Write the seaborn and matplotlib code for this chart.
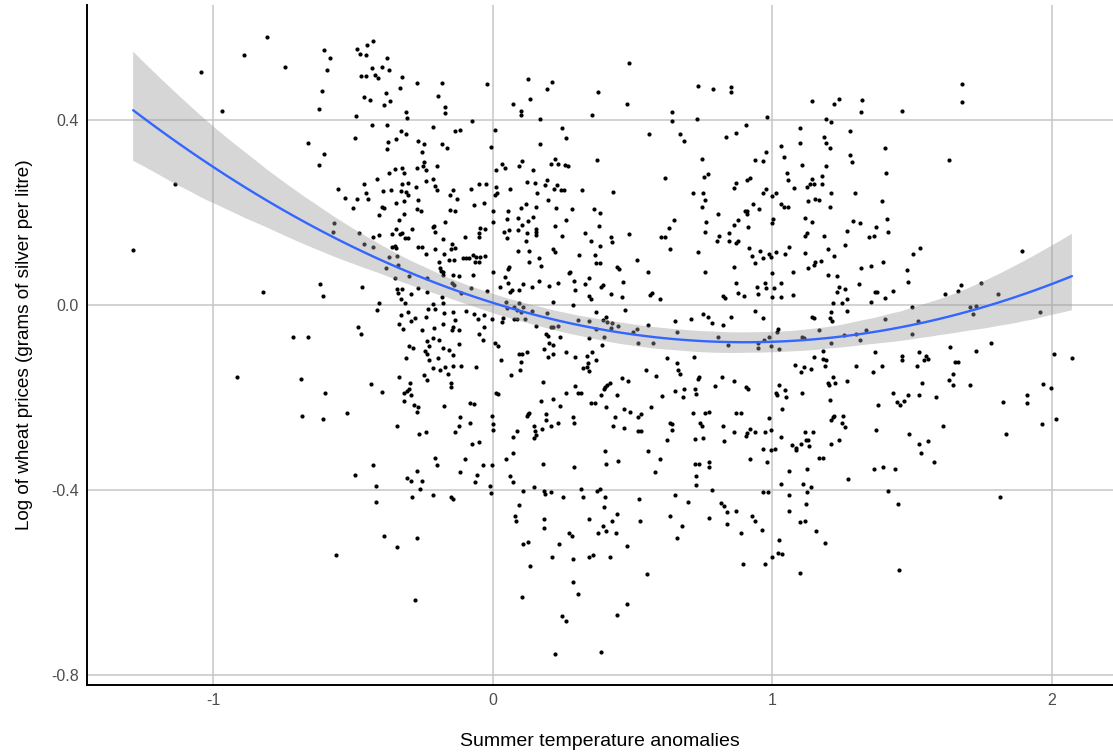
import matplotlib
matplotlib.use("Agg")
import matplotlib.pyplot as plt
import seaborn as sns
import pandas as pd
from matplotlib.collections import PolyCollection

# (summer temperature anomaly, log wheat price) pairs, by region
region_a = [(-0.807,0.580),(-0.891,0.541),(-1.045,0.505),(-0.743,0.516),(-0.969,0.421),(-1.138,0.262),(-0.605,0.553),(-0.582,0.535),(-0.592,0.508),(-0.610,0.464),(-0.621,0.424),(-0.659,0.352),(-0.602,0.327),(-0.623,0.304),(-0.555,0.251),(-0.530,0.233),(-0.487,0.229),(-0.501,0.210),(-0.568,0.177),
(-0.484,0.554),(-0.448,0.562),(-0.428,0.572),(-0.475,0.543),(-0.453,0.541),(-0.377,0.534),(-0.430,0.514),(-0.397,0.516),(-0.372,0.508),(-0.470,0.495),(-0.453,0.497),(-0.421,0.499),(-0.410,0.492),(-0.324,0.493),(-0.271,0.481),(-0.333,0.469),(-0.380,0.459),(-0.462,0.451),(-0.439,0.443),(-0.366,0.441),(-0.387,0.433),
(-0.309,0.418),(-0.308,0.405),(-0.489,0.410),(-0.430,0.391),(-0.378,0.391),(-0.329,0.376),(-0.310,0.371),(-0.347,0.360),(-0.491,0.362),(-0.375,0.353),(-0.266,0.355),(-0.247,0.348),(-0.378,0.339),(-0.254,0.331),(-0.246,0.309),(-0.248,0.301),(-0.270,0.298),(-0.237,0.292),(-0.325,0.296),(-0.317,0.287),(-0.350,0.294),(-0.372,0.286),
(-0.414,0.273),(-0.462,0.262),(-0.323,0.262),(-0.303,0.265),(-0.237,0.269),(-0.276,0.256),(-0.391,0.247),(-0.364,0.249),(-0.329,0.247),(-0.311,0.245),(-0.302,0.239),(-0.452,0.244),(-0.445,0.231),(-0.345,0.222),(-0.317,0.225),(-0.266,0.227),(-0.397,0.212),(-0.389,0.210),(-0.272,0.208),(-0.257,0.205),(-0.317,0.197),(-0.406,0.195),(-0.334,0.185),(-0.346,0.166),(-0.290,0.164)]

region_b = [(-0.183,0.481),(-0.197,0.452),(-0.172,0.430),(-0.171,0.417),(-0.212,0.386),(-0.136,0.376),(-0.116,0.380),(-0.075,0.399),(-0.021,0.479),(-0.180,0.348),(-0.165,0.340),(-0.005,0.342),(0.010,0.379),(-0.198,0.301),(-0.212,0.273),(-0.206,0.257),(-0.199,0.249),(-0.152,0.238),(-0.142,0.249),(-0.128,0.230),(-0.152,0.206),(-0.136,0.203),(-0.169,0.180),(-0.215,0.170),(-0.209,0.172),(-0.076,0.251),(-0.050,0.262),(-0.025,0.262),(-0.067,0.216),(-0.030,0.221),(0.002,0.203),(0.001,0.180),(0.008,0.239),(0.016,0.243),(0.012,0.255),(0.012,0.293),(-0.045,0.167),(-0.027,0.164),(0.035,0.306),(0.045,0.298),(0.062,0.252),(0.073,0.435),(0.100,0.420),(0.101,0.412),(0.128,0.490),(0.132,0.446),(0.168,0.403),(0.193,0.467),(0.211,0.482),(0.169,0.348),(0.095,0.301),(0.105,0.313),(0.143,0.292),(0.122,0.267),(0.150,0.264),(0.160,0.242),(0.196,0.271),(0.186,0.260),(0.209,0.306),(0.223,0.316),(0.232,0.306),(0.221,0.252),(0.229,0.260),(0.246,0.249),(0.255,0.249),(0.198,0.227),(0.227,0.210),(0.262,0.185),(0.285,0.208),(0.257,0.304),(0.270,0.301),(0.248,0.384),(0.263,0.362),(0.056,0.205),(0.101,0.210),(0.119,0.220),(0.154,0.213),(0.050,0.187),(0.091,0.188),(0.128,0.183),(0.145,0.190),(0.104,0.173),(0.154,0.164),(0.224,0.171),(0.320,0.249),(0.356,0.412),(0.378,0.462),(0.374,0.314),(0.362,0.208),(0.385,0.199),(0.382,0.171),(0.430,0.246),(0.479,0.435),(0.488,0.525),(0.560,0.370),(0.615,0.276),(0.632,0.167),(0.648,0.185),(0.642,0.419),(0.642,0.399),(0.669,0.371),(0.684,0.356),(0.734,0.474),(0.731,0.402),(0.788,0.468),(0.854,0.472),(0.854,0.461),(0.833,0.365),(0.870,0.373),(0.906,0.390),(0.983,0.408),(0.749,0.316),(0.755,0.278),(0.772,0.283),(0.718,0.244),(0.752,0.242),(0.760,0.227),(0.748,0.212),(0.807,0.197),(0.763,0.181),(0.863,0.253),(0.869,0.264),(0.908,0.271),(0.922,0.275),(0.937,0.314),(0.967,0.313),(0.978,0.332),(0.967,0.244),(0.978,0.251),(0.930,0.219),(0.951,0.208),(0.902,0.205),(0.910,0.203),(0.911,0.197),(0.877,0.185),(0.862,0.173),(0.915,0.169)]

region_c = [(1.141,0.441),(1.220,0.435),(1.239,0.446),(1.321,0.445),(1.319,0.419),(1.464,0.421),(1.679,0.479),(1.679,0.439),(1.192,0.403),(1.210,0.397),(1.098,0.383),(1.277,0.378),(1.184,0.365),(1.031,0.345),(1.099,0.350),(1.192,0.350),(1.206,0.340),(1.402,0.340),(1.043,0.320),(1.279,0.325),(1.285,0.311),(1.631,0.314),(1.107,0.304),(1.194,0.301),(1.054,0.286),(1.058,0.270),(1.407,0.287),(1.178,0.280),(1.141,0.273),(1.134,0.262),(1.149,0.262),(1.178,0.262),(1.124,0.255),(1.078,0.253),(1.014,0.242),(1.000,0.236),(1.296,0.242),(1.210,0.242),(1.031,0.220),(1.041,0.213),(1.058,0.213),(1.129,0.226),(1.153,0.229),(1.169,0.227),(1.206,0.212),(1.392,0.226),(1.003,0.187),(1.000,0.177),(1.116,0.189),(1.141,0.180),(1.288,0.183),(1.313,0.177),(1.409,0.187),(1.371,0.169)]

region_d = [(-1.286,0.120),(-0.821,0.029),(-0.619,0.047),(-0.607,0.020),(-0.467,0.040),(-0.570,0.159),(-0.479,0.156),(-0.428,0.147),(-0.406,0.153),(-0.360,0.155),(-0.333,0.155),(-0.326,0.157),(-0.315,0.146),(-0.303,0.146),(-0.461,0.133),(-0.428,0.127),(-0.360,0.126),(-0.351,0.128),(-0.346,0.124),(-0.266,0.126),(-0.253,0.127),(-0.239,0.110),(-0.370,0.104),(-0.344,0.106),(-0.340,0.088),(-0.380,0.080),(-0.348,0.060),(-0.298,0.063),(-0.234,0.058),(-0.341,0.035),(-0.323,0.035),(-0.340,0.027),(-0.291,0.025),(-0.267,0.038),(-0.234,0.029),(-0.406,0.006),(-0.329,0.013),(-0.315,0.004),(-0.232,-0.008),(-0.413,-0.011),(-0.303,-0.015),(-0.327,-0.022),(-0.291,-0.034),(-0.277,-0.028),(-0.239,-0.025),(-0.334,-0.040),(-0.322,-0.052),(-0.253,-0.053),(-0.480,-0.047),(-0.470,-0.062),(-0.714,-0.069),(-0.661,-0.069),(-0.236,-0.077),(-0.298,-0.087),(-0.285,-0.092),(-0.229,-0.087),(-0.241,-0.099),(-0.236,-0.106),(-0.310,-0.115),(-0.229,-0.118),(-0.914,-0.156),(-0.687,-0.159),(-0.601,-0.190),(-0.437,-0.170),(-0.397,-0.187),(-0.334,-0.156),(-0.296,-0.167),(-0.246,-0.150),(-0.236,-0.162),(-0.317,-0.190),(-0.308,-0.185),(-0.301,-0.182),(-0.291,-0.193),(-0.317,-0.206),(-0.282,-0.215),(-0.268,-0.221),(-0.272,-0.231),(-0.683,-0.239),(-0.607,-0.245),(-0.520,-0.233),(-0.341,-0.260),(-0.264,-0.278),(-0.237,-0.273)]

region_e = [(-0.205,0.159),(-0.179,0.143),(-0.208,0.121),(-0.173,0.112),(-0.150,0.121),(-0.146,0.133),(-0.136,0.125),(-0.155,0.099),(-0.138,0.099),(-0.193,0.093),(-0.189,0.081),(-0.184,0.075),(-0.177,0.071),(-0.179,0.065),(-0.143,0.066),(-0.119,0.063),(-0.146,0.049),(-0.137,0.044),(-0.112,0.027),(-0.181,0.017),(-0.212,0.003),(-0.208,-0.009),(-0.179,0.004),(-0.173,-0.016),(-0.143,-0.014),(-0.134,-0.032),(-0.141,-0.046),(-0.146,-0.053),(-0.209,-0.050),(-0.179,-0.040),(-0.119,-0.053),(-0.191,-0.075),(-0.212,-0.071),(-0.179,-0.093),(-0.155,-0.097),(-0.143,-0.107),(-0.122,-0.084),(-0.197,-0.115),(-0.215,-0.136),(-0.189,-0.140),(-0.161,-0.149),(-0.169,-0.133),(-0.141,-0.131),(-0.113,-0.131),(-0.149,-0.169),(-0.149,-0.176),(-0.174,-0.218),(-0.117,-0.242),(-0.119,-0.261),(-0.134,-0.275),(-0.205,-0.331),
(-0.098,0.147),(-0.050,0.156),(-0.048,0.147),(-0.107,0.103),(-0.095,0.103),(-0.086,0.102),(-0.072,0.109),(-0.060,0.105),(-0.045,0.104),(-0.026,0.107),(-0.062,0.093),(-0.050,0.093),(-0.072,0.066),(-0.076,0.038),(-0.021,0.031),(0.000,0.073),(-0.095,-0.012),(-0.066,-0.019),(-0.054,-0.030),(-0.030,-0.048),(-0.048,-0.062),(-0.036,-0.074),(-0.002,-0.030),(-0.060,-0.133),(0.010,-0.082),(0.018,-0.088),(0.012,-0.190),(0.019,-0.192),(-0.080,-0.212),(-0.066,-0.214),(-0.081,-0.254),(-0.048,-0.295),(-0.074,-0.300),(-0.002,-0.239),(0.000,-0.257),(0.000,-0.270),(-0.098,-0.333),(-0.030,-0.021),
(0.042,0.159),(0.057,0.162),(0.089,0.162),(0.122,0.157),(0.051,0.145),(0.119,0.140),(0.089,0.118),(0.129,0.118),(0.129,0.093),(0.060,0.082),(0.055,0.078),(0.045,0.061),(0.055,0.049),(0.026,0.039),(0.068,0.033),(0.063,0.029),(0.095,0.033),(0.107,0.046),(0.048,0.008),(0.050,-0.005),(0.078,-0.004),(0.095,0.004),(0.110,-0.004),(0.086,-0.010),(0.101,-0.014),(0.117,-0.030),(0.078,-0.030),(0.086,-0.030),(0.036,-0.028),(0.033,-0.037),(0.031,-0.118),(0.095,-0.105),(0.105,-0.105),(0.101,-0.123),(0.098,-0.140),(0.064,-0.151),(0.124,-0.102),(0.122,-0.239),(0.129,-0.234),(0.086,-0.272),(0.072,-0.284),(0.072,-0.320),(0.048,-0.333),
(0.155,0.159),(0.155,0.152),(0.167,0.102),(0.173,0.085),(0.167,0.053),(0.141,0.039),(0.215,0.008),(0.141,-0.012),(0.155,-0.045),(0.193,-0.017),(0.191,-0.062),(0.197,-0.066),(0.210,-0.046),(0.217,-0.048),(0.234,-0.045),(0.215,-0.086),(0.185,-0.095),(0.203,-0.081),(0.197,-0.111),(0.217,-0.105),(0.241,-0.068),(0.181,-0.165),(0.172,-0.206),(0.217,-0.203),(0.241,-0.218),(0.189,-0.236),(0.191,-0.249),(0.126,-0.236),(0.148,-0.261),(0.153,-0.272),(0.155,-0.280),(0.149,-0.288),(0.177,-0.268),(0.209,-0.262),(0.233,-0.254),(0.215,0.121),(0.224,0.115),(0.203,0.042),(0.233,0.048),(0.248,0.150),
(0.272,0.069),(0.277,0.073),(0.291,0.053),(0.294,0.033),(0.308,0.108),(0.286,0.001),(0.304,-0.032),(0.332,0.156),(0.353,0.140),(0.365,0.108),(0.370,0.091),(0.384,0.091),(0.384,0.128),(0.332,0.046),(0.344,0.058),(0.346,0.020),(0.353,0.014),(0.370,-0.014),(0.263,-0.102),(0.296,-0.112),(0.337,-0.110),(0.356,-0.100),(0.342,-0.125),(0.322,-0.136),(0.339,-0.134),(0.346,-0.143),(0.370,-0.118),(0.368,-0.052),(0.346,-0.035),(0.346,-0.071),(0.294,-0.174),(0.305,-0.189),(0.317,-0.189),(0.352,-0.212),(0.365,-0.212),(0.263,-0.190),(0.286,-0.241),(0.292,-0.254),
(0.425,0.147),(0.427,0.136),(0.394,0.044),(0.389,0.040),(0.424,0.025),(0.463,0.017),(0.465,0.051),(0.451,0.078),(0.446,0.082),(0.406,-0.026),(0.394,-0.032),(0.408,-0.037),(0.427,-0.039),(0.425,-0.049),(0.449,-0.045),(0.475,-0.010),(0.400,-0.069),(0.391,-0.086),(0.463,-0.158),(0.484,-0.164),(0.418,-0.169),(0.410,-0.173),(0.403,-0.177),(0.399,-0.180),(0.388,-0.194),(0.444,-0.194),(0.406,-0.219),(0.468,-0.224),(0.492,-0.230),(0.437,-0.241),(0.430,-0.261),(0.471,-0.266),(0.403,-0.316),(0.489,0.154),
(0.516,0.097),(0.554,0.073),(0.563,0.022),(0.570,0.026),(0.599,0.013),(0.501,-0.057),(0.518,-0.052),(0.520,-0.082),(0.556,-0.043),(0.575,-0.082),(0.549,-0.141),(0.585,-0.153),(0.532,-0.236),(0.519,-0.242),(0.520,-0.271),(0.531,-0.271),(0.567,-0.221),(0.603,0.147),(0.615,0.147),(0.605,-0.196),(0.556,-0.316),(0.599,-0.333),
(0.635,0.122),(0.652,-0.035),(0.660,-0.057),(0.624,-0.115),(0.659,-0.124),(0.663,-0.140),(0.669,-0.149),(0.708,-0.030),(0.721,-0.112),(0.735,-0.160),(0.722,-0.182),(0.728,-0.192),(0.683,-0.180),(0.653,-0.186),(0.680,-0.198),(0.635,-0.254),(0.641,-0.257),(0.642,-0.270),(0.716,-0.234),(0.722,-0.290),(0.623,-0.291),(0.760,0.073),(0.735,0.115),
(0.761,0.159),(0.809,0.150),(0.802,0.140),(0.845,0.140),(0.863,0.082),(0.871,0.049),(0.878,0.026),(0.823,0.020),(0.831,0.015),(0.899,0.020),(0.753,-0.019),(0.771,-0.026),(0.785,-0.039),(0.807,-0.069),(0.823,-0.043),(0.841,-0.086),(0.851,-0.026),(0.737,-0.156),(0.794,-0.174),(0.819,-0.156),(0.761,-0.232),(0.773,-0.230),(0.749,-0.262),(0.740,-0.255),(0.823,-0.261),(0.828,-0.294),(0.752,-0.288),
(0.847,0.157),(0.871,0.134),(0.877,0.140),(0.916,0.125),(0.926,0.107),(0.939,0.092),(0.955,0.118),(0.967,0.102),(0.973,0.048),(0.949,0.025),(0.979,0.037),(0.946,0.040),(0.937,-0.013),(0.967,-0.027),(0.970,-0.075),(0.949,-0.082),(0.949,-0.093),(0.863,-0.164),(0.907,-0.176),(0.912,-0.180),(0.871,-0.232),(0.888,-0.234),(0.863,-0.275),(0.905,-0.282),(0.909,-0.277),(0.921,-0.268),(0.937,-0.275),(0.967,-0.311),(0.921,-0.333),(0.973,-0.275)]

region_f = [(1.116,0.150),(1.124,0.156),(1.185,0.149),(1.267,0.161),(1.345,0.147),(1.363,0.149),(1.414,0.159),(1.262,0.131),(1.014,0.116),(1.045,0.110),(1.060,0.127),(0.990,0.112),(0.996,0.105),(1.119,0.114),(1.200,0.121),(1.222,0.106),(1.176,0.095),(1.154,0.094),(1.149,0.087),(1.129,0.080),(1.075,0.071),(1.000,0.069),(1.318,0.080),(1.354,0.086),(1.397,0.093),(1.502,0.111),(1.529,0.123),(1.483,0.076),(1.485,0.051),(1.199,0.066),(1.230,0.063),(1.033,0.048),(1.008,0.038),(0.999,0.017),(1.031,0.017),(1.075,0.022),(1.239,0.040),(1.260,0.035),(1.233,0.029),(1.310,0.046),(1.367,0.029),(1.375,0.029),(1.431,0.031),(1.403,0.015),(1.354,0.008),(1.269,0.013),(1.218,0.006),(1.248,0.004),(1.500,-0.004),(1.267,-0.012),(1.211,-0.015),(1.206,-0.028),(1.215,-0.034),(1.142,-0.025),(1.149,-0.028),
(1.618,0.025),(1.665,0.031),(1.677,0.043),(1.748,0.048),(1.809,0.025),(1.707,-0.003),(1.728,-0.001),(1.718,-0.019),(1.893,0.118),(1.959,-0.015),(1.403,-0.030),(1.520,-0.034),(1.501,-0.062),(1.334,-0.053),(1.301,-0.062),(1.313,-0.074),(1.258,-0.064),(1.167,-0.054),(1.107,-0.069),(1.115,-0.071),(1.210,-0.082),(1.021,-0.052),(1.017,-0.057),(0.990,-0.069),(0.994,-0.087),(1.026,-0.094),(1.181,-0.099),(1.180,-0.116),(1.191,-0.118),(1.150,-0.112),(1.188,-0.131),(1.080,-0.129),(1.115,-0.134),(1.140,-0.137),(1.102,-0.145),(1.367,-0.102),(1.394,-0.131),(1.299,-0.131),(1.360,-0.145),(1.266,-0.164),(1.217,-0.156),(1.200,-0.167),(1.203,-0.173),(1.224,-0.167),
(1.464,-0.110),(1.464,-0.118),(1.526,-0.100),(1.551,-0.109),(1.544,-0.118),(1.556,-0.117),(1.519,-0.132),(1.637,-0.090),(1.654,-0.123),(1.666,-0.123),(1.730,-0.098),(1.783,-0.082),(1.648,-0.149),(1.631,-0.162),(1.646,-0.172),(1.708,-0.172),(1.536,-0.167),(2.008,-0.105),(2.072,-0.115),(1.968,-0.170),(1.998,-0.178),(1.911,-0.195),(1.911,-0.212),(1.826,-0.210),(1.966,-0.257),(2.016,-0.245),(1.835,-0.278),(1.612,-0.260),(1.587,-0.198),(1.525,-0.195),(1.484,-0.195),(1.470,-0.206),(1.456,-0.215),(1.446,-0.210),(1.433,-0.190),(1.377,-0.216),(1.373,-0.270),(1.490,-0.278),(1.526,-0.300),(1.559,-0.294),(1.533,-0.319),
(1.023,-0.172),(1.014,-0.190),(1.017,-0.194),(1.045,-0.183),(1.050,-0.198),(1.106,-0.190),(1.205,-0.204),(1.035,-0.224),(0.990,-0.244),(1.217,-0.241),(1.221,-0.239),(1.212,-0.248),(1.252,-0.239),(1.251,-0.254),(1.259,-0.263),(0.996,-0.270),(1.031,-0.285),(1.119,-0.273),(1.146,-0.273),(1.122,-0.291),(1.128,-0.291),(1.212,-0.301),(1.238,-0.291),(1.069,-0.303),(1.086,-0.308),(1.086,-0.313),(1.103,-0.300),(1.132,-0.304),(1.011,-0.310),(0.996,-0.313),(1.167,-0.330),(1.183,-0.330)]

region_g = [(-0.428,-0.346),(-0.494,-0.366),(-0.418,-0.390),(-0.419,-0.426),(-0.390,-0.500),(-0.344,-0.523),(-0.562,-0.540),(-0.279,-0.637),(-0.270,-0.504),(-0.308,-0.373),(-0.291,-0.380),(-0.272,-0.359),(-0.254,-0.380),(-0.260,-0.397),(-0.290,-0.415)]

region_h = [(-0.212,-0.411),(-0.198,-0.346),(-0.150,-0.415),(-0.143,-0.418),(-0.116,-0.360),(-0.062,-0.383),(-0.056,-0.366),(-0.036,-0.346),(-0.004,-0.346),(-0.008,-0.390),(-0.006,-0.407),(0.061,-0.369),(0.074,-0.383),(0.110,-0.401),(0.148,-0.394),(0.095,-0.433),(0.081,-0.455),(0.084,-0.467),(0.107,-0.516),(0.126,-0.512),(0.135,-0.564),(0.104,-0.632),(0.180,-0.343),(0.182,-0.401),(0.187,-0.408),(0.209,-0.404),(0.185,-0.462),(0.185,-0.481),(0.212,-0.544),(0.222,-0.754),(0.239,-0.516),(0.247,-0.673),(0.264,-0.682),(0.253,-0.415),(0.272,-0.492),(0.283,-0.500),(0.288,-0.548),(0.289,-0.598),(0.304,-0.624),(0.290,-0.350),(0.316,-0.397),(0.322,-0.415),(0.346,-0.463),(0.346,-0.544),(0.358,-0.541),(0.374,-0.402),(0.384,-0.397),(0.402,-0.415),(0.400,-0.437),(0.375,-0.492),(0.406,-0.489),(0.395,-0.477),(0.426,-0.466),(0.444,-0.451),(0.440,-0.492),(0.421,-0.544),(0.387,-0.750),(0.406,-0.343),(0.447,-0.337),(0.481,-0.520),(0.446,-0.669),(0.481,-0.646),(0.524,-0.418),(0.527,-0.466),(0.552,-0.581),(0.580,-0.360),(0.636,-0.455),(0.653,-0.411),(0.660,-0.504),(0.678,-0.477),(0.698,-0.426),(0.724,-0.343),(0.737,-0.343),(0.729,-0.369),(0.729,-0.389),(0.773,-0.339),(0.773,-0.349),(0.773,-0.459),(0.786,-0.400),(0.816,-0.428),(0.826,-0.435),(0.838,-0.447),(0.840,-0.473),(0.869,-0.444),(0.889,-0.492),(0.897,-0.560),(0.927,-0.455),(0.939,-0.466),(0.964,-0.485),(0.968,-0.404),(0.984,-0.404),(0.975,-0.560),(0.982,-0.339)]

region_i = [(1.061,-0.359),(1.125,-0.353),(1.030,-0.386),(1.111,-0.386),(1.138,-0.394),(1.126,-0.404),(1.060,-0.411),(1.120,-0.429),(1.061,-0.444),(1.098,-0.469),(1.118,-0.467),(1.156,-0.488),(1.024,-0.508),(1.190,-0.515),(1.019,-0.536),(1.036,-0.539),(0.999,-0.544),(1.098,-0.580),(1.270,-0.376),(1.363,-0.355),(1.396,-0.349),(1.440,-0.355),(1.413,-0.401),(1.450,-0.429),(1.453,-0.572),(1.578,-0.340),(1.814,-0.415)]

x_ticks = [-1, 0, 1, 2]
y_ticks = [-0.8, -0.4, 0.0, 0.4]
y_tick_labels = ["-0.8", "-0.4", "0.0", "0.4"]
x_label = "Summer temperature anomalies"
y_label = "Log of wheat prices (grams of silver per litre)"

pairs = region_a + region_b + region_c + region_d + region_e + region_f + region_g + region_h + region_i
df = pd.DataFrame(pairs, columns=["temp", "price"])

sns.set_theme(style="white")
plt.rcParams["font.family"] = ["Liberation Sans", "DejaVu Sans"]

fig = plt.figure(figsize=(11.13, 7.55), dpi=100)
ax = fig.add_axes([0.0782, 0.0927, 0.9218, 0.9007])

sns.scatterplot(data=df, x="temp", y="price", ax=ax, color="black", s=9,
                linewidth=0, zorder=1)
sns.regplot(data=df, x="temp", y="price", ax=ax, scatter=False, order=2,
            ci=95, seed=0, truncate=True, color="#3366FF",
            line_kws={"linewidth": 1.7, "zorder": 3})
for coll in ax.collections:
    if isinstance(coll, PolyCollection):
        coll.set_facecolor("#999999")
        coll.set_alpha(0.4)
        coll.set_zorder(2)
        coll.set_edgecolor("none")

ax.set_xlim(-1.451, 2.219)
ax.set_ylim(-0.8213, 0.6496)
ax.set_xticks(x_ticks)
ax.set_xticklabels([str(t) for t in x_ticks])
ax.set_yticks(y_ticks)
ax.set_yticklabels(y_tick_labels)
ax.grid(True, color="#C6C6C6", linewidth=1.1)
ax.set_axisbelow(True)
for s in ["top", "right"]:
    ax.spines[s].set_visible(False)
for s in ["left", "bottom"]:
    ax.spines[s].set_visible(True)
    ax.spines[s].set_color("black")
    ax.spines[s].set_linewidth(1.4)
ax.tick_params(axis="both", length=0, labelsize=11.5, labelcolor="#4D4D4D", pad=6)
ax.set_xlabel(x_label, fontsize=14, color="black", labelpad=18)
ax.set_ylabel(y_label, fontsize=13.6, color="black", labelpad=13)

fig.savefig("out.png", dpi=100)
